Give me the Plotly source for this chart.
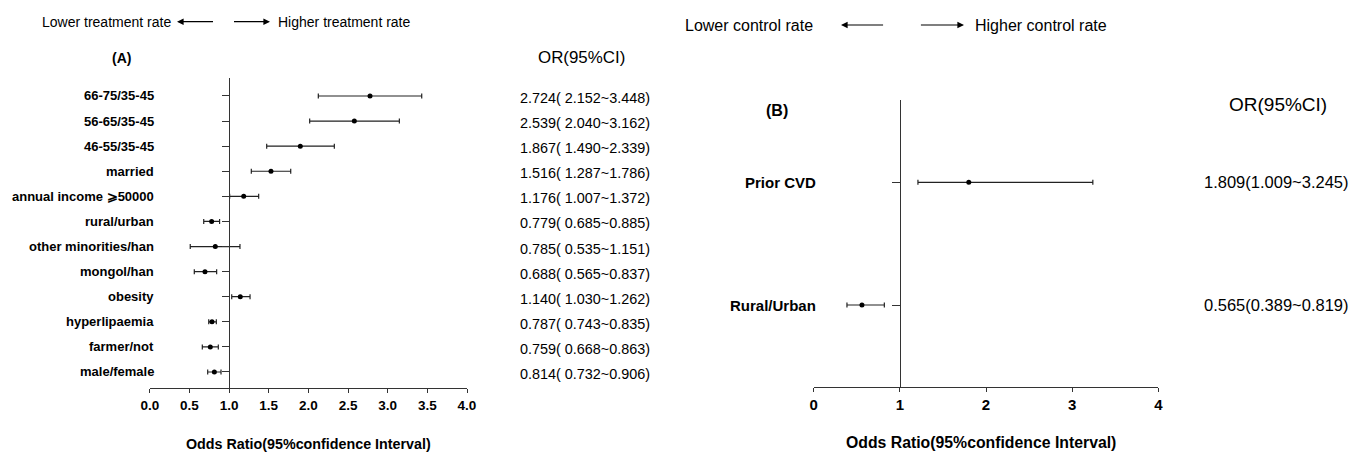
import plotly.graph_objects as go

W, H = 1354, 452

# ---------------- Data: panel A ----------------
cats_a = ["66-75/35-45", "56-65/35-45", "46-55/35-45", "married",
          "annual income ⩾50000", "rural/urban", "other minorities/han",
          "mongol/han", "obesity", "hyperlipaemia", "farmer/not", "male/female"]
or_a = [2.777, 2.579, 1.898, 1.528, 1.184, 0.780, 0.826, 0.696, 1.141, 0.784, 0.763, 0.814]
lo_a = [2.125, 2.016, 1.474, 1.280, 1.007, 0.680, 0.510, 0.561, 1.033, 0.743, 0.662, 0.730]
hi_a = [3.429, 3.147, 2.327, 1.777, 1.373, 0.880, 1.137, 0.843, 1.264, 0.839, 0.864, 0.898]
txt_a = ["2.724( 2.152~3.448)", "2.539( 2.040~3.162)", "1.867( 1.490~2.339)",
         "1.516( 1.287~1.786)", "1.176( 1.007~1.372)", "0.779( 0.685~0.885)",
         "0.785( 0.535~1.151)", "0.688( 0.565~0.837)", "1.140( 1.030~1.262)",
         "0.787( 0.743~0.835)", "0.759( 0.668~0.863)", "0.814( 0.732~0.906)"]
ticks_a = [0, 0.5, 1, 1.5, 2, 2.5, 3, 3.5, 4]

# ---------------- Data: panel B ----------------
cats_b = ["Prior CVD", "Rural/Urban"]
or_b = [1.80, 0.56]
lo_b = [1.21, 0.386]
hi_b = [3.24, 0.82]
txt_b = ["1.809(1.009~3.245)", "0.565(0.389~0.819)"]
ticks_b = [0, 1, 2, 3, 4]

FONT = "Liberation Sans, Arial, sans-serif"
LINE = "#333333"

# horizontal placement compensation (observed render: screen_x = OX + SX * fig_x)
OX, SX = 8.0, 0.9867

def px(x):
    return (x - OX) / (SX * W)

def py(y):
    return 1 - y / H

n_a = len(cats_a)
ya = [n_a - 1 - i for i in range(n_a)]
nb = len(cats_b)
yb = [nb - 1 - i for i in range(nb)]

fig = go.Figure()
fig.add_trace(go.Scatter(
    x=or_a, y=ya, mode="markers", xaxis="x", yaxis="y",
    marker=dict(color="black", size=5),
    error_x=dict(type="data", symmetric=False,
                 array=[h - o for h, o in zip(hi_a, or_a)],
                 arrayminus=[o - l for o, l in zip(or_a, lo_a)],
                 color="#222222", thickness=1.2, width=2.5),
    showlegend=False, hoverinfo="skip"))
fig.add_trace(go.Scatter(
    x=or_b, y=yb, mode="markers", xaxis="x2", yaxis="y2",
    marker=dict(color="black", size=5),
    error_x=dict(type="data", symmetric=False,
                 array=[h - o for h, o in zip(hi_b, or_b)],
                 arrayminus=[o - l for o, l in zip(or_b, lo_b)],
                 color="#222222", thickness=1.2, width=2.5),
    showlegend=False, hoverinfo="skip"))

ax_l0, ax_l1 = 148.8, 466.0
ay_top, ay_bot = 78.0, 388.3
bx_l0, bx_l1 = 812.7, 1157.3
by_top, by_bot = 100.0, 386.7

dom_xa = [px(ax_l0), px(ax_l1)]
dom_xb = [px(bx_l0), px(bx_l1)]

fig.update_layout(
    width=W, height=H, autosize=False,
    margin=dict(l=0, r=0, t=0, b=0),
    paper_bgcolor="white", plot_bgcolor="white",
    xaxis=dict(domain=dom_xa, range=[0, 4], anchor="y",
               showline=True, linecolor=LINE, linewidth=1.3,
               ticks="outside", ticklen=4, tickcolor=LINE, tickwidth=1.3,
               tickvals=ticks_a, ticktext=[f"{t:.1f}" for t in ticks_a],
               tickfont=dict(family=FONT, size=13.5, color="black", weight="bold"),
               showgrid=False, zeroline=False, fixedrange=True),
    yaxis=dict(domain=[py(ay_bot), py(ay_top)], range=[-0.65, n_a - 1 + 0.717],
               anchor="free", position=dom_xa[0] + 0.25 * (dom_xa[1] - dom_xa[0]),
               side="left", showline=True, linecolor=LINE, linewidth=1.3,
               ticks="outside", ticklen=7, tickcolor=LINE, tickwidth=1.3,
               tickvals=ya, showticklabels=False,
               showgrid=False, zeroline=False, fixedrange=True),
    xaxis2=dict(domain=dom_xb, range=[0, 4], anchor="y2",
                showline=True, linecolor=LINE, linewidth=1.3,
                ticks="outside", ticklen=4, tickcolor=LINE, tickwidth=1.3,
                tickvals=ticks_b, ticktext=[str(t) for t in ticks_b],
                tickfont=dict(family=FONT, size=15, color="black", weight="bold"),
                showgrid=False, zeroline=False, fixedrange=True),
    yaxis2=dict(domain=[py(by_bot), py(by_top)], range=[-0.666, nb - 1 + 0.671],
                anchor="free", position=dom_xb[0] + 0.25 * (dom_xb[1] - dom_xb[0]),
                side="left", showline=True, linecolor=LINE, linewidth=1.3,
                ticks="outside", ticklen=8, tickcolor=LINE, tickwidth=1.3,
                tickvals=yb, showticklabels=False,
                showgrid=False, zeroline=False, fixedrange=True),
)

ann = []
for c, y in zip(cats_a, ya):
    ann.append(dict(x=px(155), y=y, xref="paper", yref="y", text=c, showarrow=False,
                    xanchor="right", yanchor="middle",
                    font=dict(family=FONT, size=13, color="black", weight="bold")))
for t, y in zip(txt_a, ya):
    ann.append(dict(x=px(516.5), y=y, xref="paper", yref="y", text=t, showarrow=False,
                    xanchor="left", yanchor="middle", yshift=-2,
                    font=dict(family=FONT, size=14.4, color="black")))
for c, y in zip(cats_b, yb):
    ann.append(dict(x=px(817), y=y, xref="paper", yref="y2", text=c, showarrow=False,
                    xanchor="right", yanchor="middle",
                    font=dict(family=FONT, size=15, color="black", weight="bold")))
for t, y in zip(txt_b, yb):
    ann.append(dict(x=px(1201), y=y, xref="paper", yref="y2", text=t, showarrow=False,
                    xanchor="left", yanchor="middle",
                    font=dict(family=FONT, size=16.5, color="black")))

def txt(x, y, s, size, anchor="center", bold=False):
    ann.append(dict(x=px(x), y=py(y), xref="paper", yref="paper", text=s, showarrow=False,
                    xanchor=anchor, yanchor="middle",
                    font=dict(family=FONT, size=size, color="black",
                              weight="bold" if bold else "normal")))

def arrow(x_head, x_tail, y):
    ann.append(dict(x=px(x_head), y=py(y), xref="paper", yref="paper",
                    ax=(x_tail - x_head) / SX, ay=0, axref="pixel", ayref="pixel",
                    text="", showarrow=True, arrowhead=2, arrowsize=1.1,
                    arrowwidth=1.2, arrowcolor="black"))

txt(172, 21.7, "Lower treatment rate", 14, "right")
arrow(176, 213, 21.7)
arrow(269, 232, 21.7)
txt(275, 21.7, "Higher treatment rate", 14, "left")
txt(120, 57.7, "(A)", 14, bold=True)
txt(580, 57, "OR(95%CI)", 16.9)
txt(307.5, 444, "Odds Ratio(95%confidence Interval)", 14.3, bold=True)

txt(814, 25, "Lower control rate", 16, "right")
arrow(840, 883, 25)
arrow(963, 919, 25)
txt(972, 25, "Higher control rate", 16, "left")
txt(776, 110, "(B)", 16, bold=True)
txt(1276.5, 105, "OR(95%CI)", 19)
txt(980, 442, "Odds Ratio(95%confidence Interval)", 15.8, bold=True)

fig.update_layout(annotations=ann)
html = fig.to_html(config={"displayModeBar": False, "responsive": False},
                   include_plotlyjs=True, full_html=True)
html = html.replace("<head>", "<head><style>html,body{margin:0;padding:0;overflow:hidden;}</style>", 1)
with open("out.html", "w", encoding="utf-8") as f:
    f.write(html)
